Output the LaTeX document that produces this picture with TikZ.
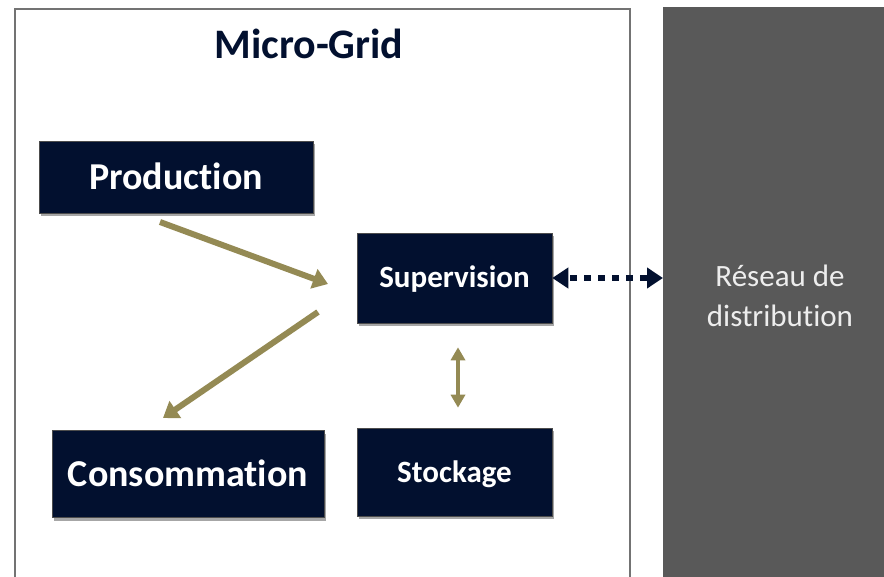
\documentclass[tikz,border=0pt]{standalone}
\usepackage{fontspec}
\setmainfont{Carlito}[Ligatures=NoCommon]
\usetikzlibrary{arrows.meta,shadows}
\definecolor{navy}{HTML}{02102F}
\definecolor{olive}{HTML}{948A54}
\definecolor{rgray}{HTML}{595959}
\definecolor{fgray}{HTML}{737373}
\begin{document}
\begin{tikzpicture}[x=1pt,y=-1pt,
  blk/.style={fill=navy,draw=black!70,line width=0.6pt,inner sep=0pt,text=white,
    drop shadow={shadow xshift=2pt,shadow yshift=-3pt,opacity=0.35,fill=black},
    text depth=0pt},
  big/.style={font=\bfseries\fontsize{38}{44}\selectfont,text height=25pt},
  mid/.style={font=\bfseries\fontsize{31}{36}\selectfont,text height=20pt},
  oarrow/.style={draw=olive,line width=6pt,-{Triangle[width=20pt,length=15pt]}},
  varrow/.style={draw=olive,line width=4.5pt,{Triangle[width=14pt,length=13pt]}-{Triangle[width=14pt,length=13pt]}},
  darrow/.style={draw=navy,line width=6pt,dash pattern=on 7pt off 7pt,dash phase=-3pt,
    {Triangle[width=20pt,length=16pt]}-{Triangle[width=20pt,length=16pt]}}]
\useasboundingbox (0,0) rectangle (884,577);
\fill[white] (0,0) rectangle (884,577);
% micro-grid frame
\draw[fgray,line width=2.2pt] (15,600) -- (15,9) -- (630,9) -- (630,600);
\node[font=\bfseries\fontsize{42}{48}\selectfont,text=navy,anchor=base] (title) at (309,59) {Micro-Grid};
% distribution network
\node[fill=rgray,minimum width=221pt,minimum height=580pt,inner sep=0pt,anchor=north west] (reseau) at (663,7) {};
\node[text=white!93!black,font=\fontsize{31}{40}\selectfont,align=center] (rtext) at (780,296) {Réseau de\\distribution};
% blocks
\node[blk,big,minimum width=274pt,minimum height=72pt] (prod) at (176,177) {Production};
\node[blk,big,minimum width=272pt,minimum height=87pt] (cons) at (188,474) {Consommation};
\node[blk,mid,minimum width=195pt,minimum height=90pt] (sup) at (454.5,278) {Supervision};
\node[blk,mid,minimum width=195pt,minimum height=88pt] (sto) at (454.5,472) {Stockage};
% arrows
\coordinate (a1s) at (160,222);
\coordinate (a1e) at (328,284);
\coordinate (a2s) at (318,312);
\coordinate (a2e) at (163,418);
\draw[oarrow] (a1s) -- (a1e);
\draw[oarrow] (a2s) -- (a2e);
\draw[varrow,shorten <=24pt,shorten >=20pt] ([xshift=3.5pt]sup.south) -- ([xshift=3.5pt]sto.north);
\draw[darrow] (sup.east) -- (reseau.west |- sup.east);
\end{tikzpicture}
\end{document}
